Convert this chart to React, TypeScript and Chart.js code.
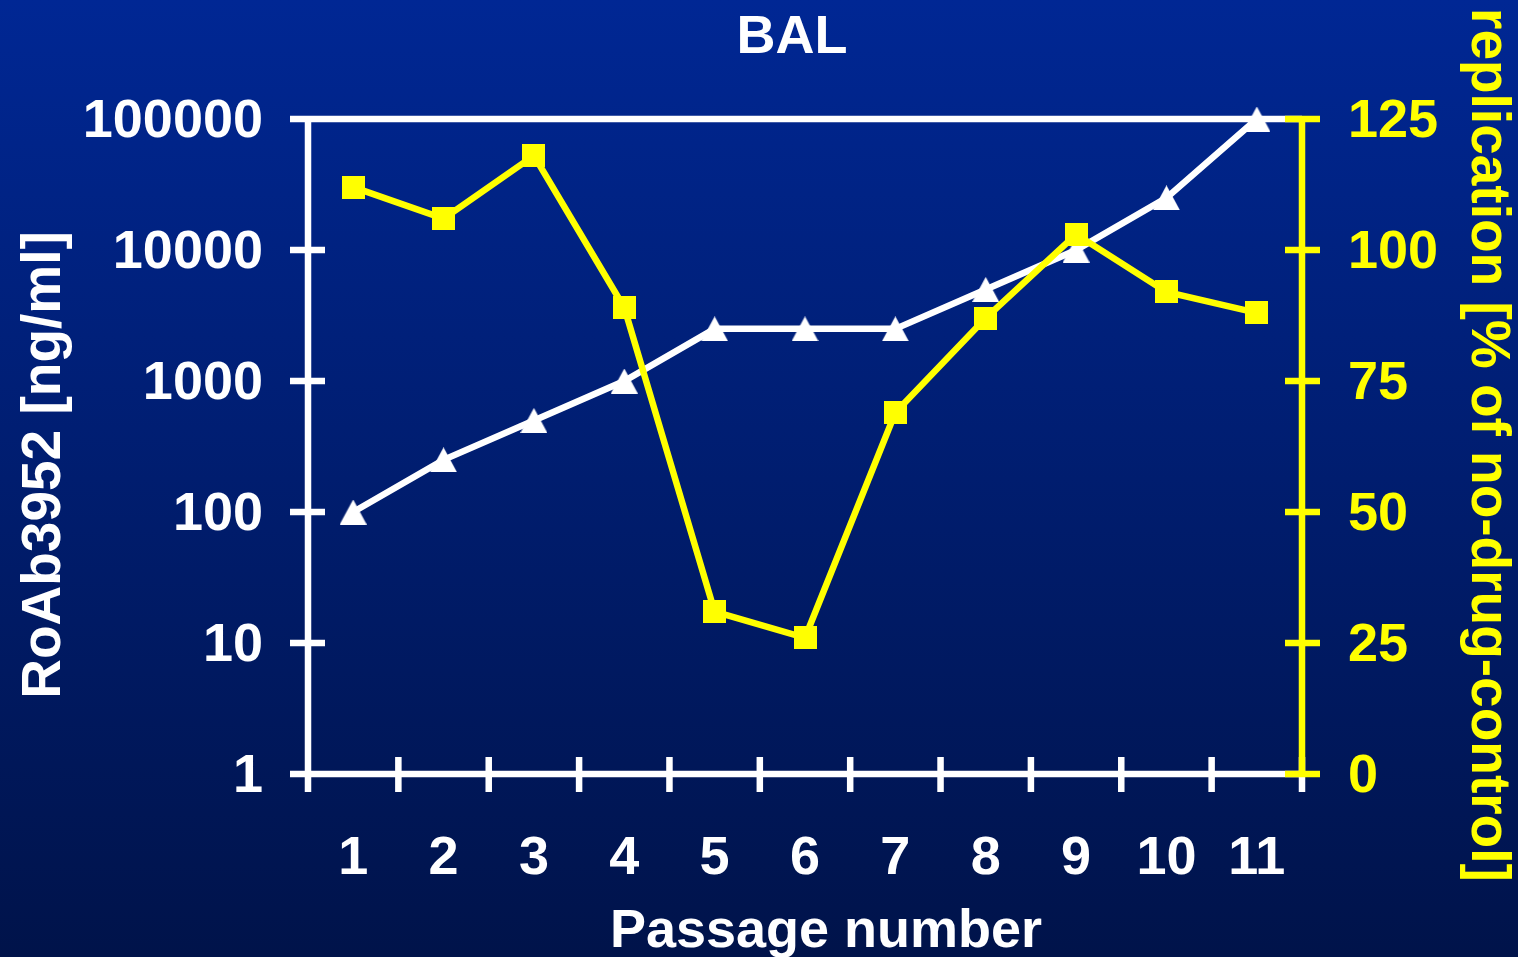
import { useEffect, useRef } from 'react';
import { Chart, registerables } from 'chart.js';

Chart.register(...registerables);

// Passage numbers on the x axis
const passages = ['1', '2', '3', '4', '5', '6', '7', '8', '9', '10', '11'];
// RoAb3952 concentration per passage [ng/ml] (left, log axis)
const roAbConcentration = [100, 250, 500, 1000, 2500, 2500, 2500, 5000, 10000, 25000, 100000];
// Replication as % of the no-drug control (right axis)
const replicationPercent = [112, 106, 118, 89, 31, 26, 69, 87, 103, 92, 88];
// Tick values
const concentrationTicks = [1, 10, 100, 1000, 10000, 100000];
const replicationTicks = [0, 25, 50, 75, 100, 125];

const FONT = '"Liberation Sans", Arial, Helvetica, sans-serif';
const WHITE = '#ffffff';
const YELLOW = '#ffff00';

function makeTriangle(w: number, h: number, color: string): HTMLCanvasElement {
  const c = document.createElement('canvas');
  c.width = w;
  c.height = h;
  const g = c.getContext('2d')!;
  g.fillStyle = color;
  g.beginPath();
  g.moveTo(w / 2, 0);
  g.lineTo(w, h);
  g.lineTo(0, h);
  g.closePath();
  g.fill();
  return c;
}

function makeSquare(s: number, color: string): HTMLCanvasElement {
  const c = document.createElement('canvas');
  c.width = s;
  c.height = s;
  const g = c.getContext('2d')!;
  g.fillStyle = color;
  g.fillRect(0, 0, s, s);
  return c;
}

// Background, axis frame with crossing tick marks, and the slide titles
const slideFrame = {
  id: 'slideFrame',
  beforeDraw(chart: any) {
    const { ctx, width, height } = chart;
    const grad = ctx.createLinearGradient(0, 0, 0, height);
    grad.addColorStop(0, 'rgb(0, 39, 148)');
    grad.addColorStop(1, 'rgb(0, 19, 74)');
    ctx.save();
    ctx.fillStyle = grad;
    ctx.fillRect(0, 0, width, height);
    ctx.restore();
  },
  beforeDatasetsDraw(chart: any) {
    const { ctx, chartArea } = chart;
    const { left, right, top, bottom } = chartArea;
    const yL = chart.scales.y;
    const yR = chart.scales.y1;
    const xs = chart.scales.x;
    ctx.save();
    ctx.lineCap = 'butt';
    ctx.lineWidth = 6.5;

    // white left axis, top border and bottom axis
    ctx.strokeStyle = WHITE;
    ctx.beginPath();
    ctx.moveTo(left, top);
    ctx.lineTo(left, bottom);
    ctx.moveTo(left - 18, top);
    ctx.lineTo(right, top);
    ctx.moveTo(left - 18, bottom);
    ctx.lineTo(right, bottom);
    for (const v of concentrationTicks) {
      const py = yL.getPixelForValue(v);
      ctx.moveTo(left - 18, py);
      ctx.lineTo(left + 17, py);
    }
    for (let i = 0; i <= passages.length; i++) {
      const px = xs.getPixelForValue(i - 0.5);
      ctx.moveTo(px, bottom - 17);
      ctx.lineTo(px, bottom + 18);
    }
    ctx.stroke();

    // yellow right axis
    ctx.strokeStyle = YELLOW;
    ctx.beginPath();
    ctx.moveTo(right, top);
    ctx.lineTo(right, bottom);
    for (const v of replicationTicks) {
      const py = yR.getPixelForValue(v);
      ctx.moveTo(right - 17, py);
      ctx.lineTo(right + 18, py);
    }
    ctx.stroke();
    ctx.restore();
  },
  afterDraw(chart: any) {
    const { ctx } = chart;
    ctx.save();
    ctx.font = `bold 54px ${FONT}`;
    ctx.fillStyle = WHITE;
    ctx.textAlign = 'center';
    ctx.textBaseline = 'alphabetic';
    ctx.fillText('BAL', 792, 53);
    ctx.fillText('Passage number', 826, 947);

    ctx.font = `bold 55px ${FONT}`;
    ctx.save();
    ctx.translate(60, 465);
    ctx.rotate(-Math.PI / 2);
    ctx.textAlign = 'center';
    ctx.fillText('RoAb3952 [ng/ml]', 0, 0);
    ctx.restore();

    ctx.save();
    ctx.fillStyle = YELLOW;
    ctx.translate(1472, 8);
    ctx.rotate(Math.PI / 2);
    ctx.textAlign = 'left';
    ctx.fillText('replication [% of no-drug-control]', 0, 0);
    ctx.restore();
    ctx.restore();
  },
};

export default function App() {
  const canvasRef = useRef<HTMLCanvasElement | null>(null);

  useEffect(() => {
    const canvas = canvasRef.current;
    if (!canvas) return;
    const triangle = makeTriangle(27, 25, WHITE);
    const square = makeSquare(23, YELLOW);
    const tickFont = { family: FONT, size: 54, weight: 'bold' as const };

    const chart = new Chart(canvas, {
      type: 'line',
      data: {
        labels: passages,
        datasets: [
          {
            label: 'Replication [% of no-drug-control]',
            data: replicationPercent,
            yAxisID: 'y1',
            borderColor: YELLOW,
            backgroundColor: YELLOW,
            borderWidth: 6.5,
            pointStyle: square,
            pointRadius: 12,
            clip: false,
            tension: 0,
          },
          {
            label: 'RoAb3952 [ng/ml]',
            data: roAbConcentration,
            yAxisID: 'y',
            borderColor: WHITE,
            backgroundColor: WHITE,
            borderWidth: 6.5,
            pointStyle: triangle,
            pointRadius: 14,
            clip: false,
            tension: 0,
          },
        ],
      },
      options: {
        responsive: false,
        animation: false,
        devicePixelRatio: 1,
        layout: { padding: { top: 119, left: 0, right: 0, bottom: 0 } },
        plugins: {
          legend: { display: false },
          title: { display: false },
          tooltip: { enabled: false },
        },
        scales: {
          x: {
            type: 'category',
            offset: true,
            grid: { display: false, drawTicks: false, offset: true },
            border: { display: false },
            ticks: {
              color: WHITE,
              font: tickFont,
              padding: 53,
              autoSkip: false,
              maxRotation: 0,
              minRotation: 0,
            },
            afterFit: (scale: any) => {
              scale.height = 183;
            },
          },
          y: {
            type: 'logarithmic',
            position: 'left',
            min: 1,
            max: 100000,
            grid: { display: false, drawTicks: false },
            border: { display: false },
            ticks: {
              color: WHITE,
              font: tickFont,
              padding: 45,
              labelOffset: 3,
              callback: (v: any) => String(v),
            },
            afterBuildTicks: (scale: any) => {
              scale.ticks = concentrationTicks.map((v) => ({ value: v }));
            },
            afterFit: (scale: any) => {
              scale.width = 308;
            },
          },
          y1: {
            type: 'linear',
            position: 'right',
            min: 0,
            max: 125,
            grid: { display: false, drawTicks: false },
            border: { display: false },
            ticks: {
              color: YELLOW,
              font: tickFont,
              padding: 46,
              labelOffset: 3,
              stepSize: 25,
            },
            afterBuildTicks: (scale: any) => {
              scale.ticks = replicationTicks.map((v) => ({ value: v }));
            },
            afterFit: (scale: any) => {
              scale.width = 216;
            },
          },
        },
      },
      plugins: [slideFrame],
    });

    return () => {
      chart.destroy();
    };
  }, []);

  return (
    <div style={{ position: 'fixed', left: 0, top: 0, width: 1518, height: 957 }}>
      <canvas ref={canvasRef} width={1518} height={957} style={{ display: 'block' }} />
    </div>
  );
}
